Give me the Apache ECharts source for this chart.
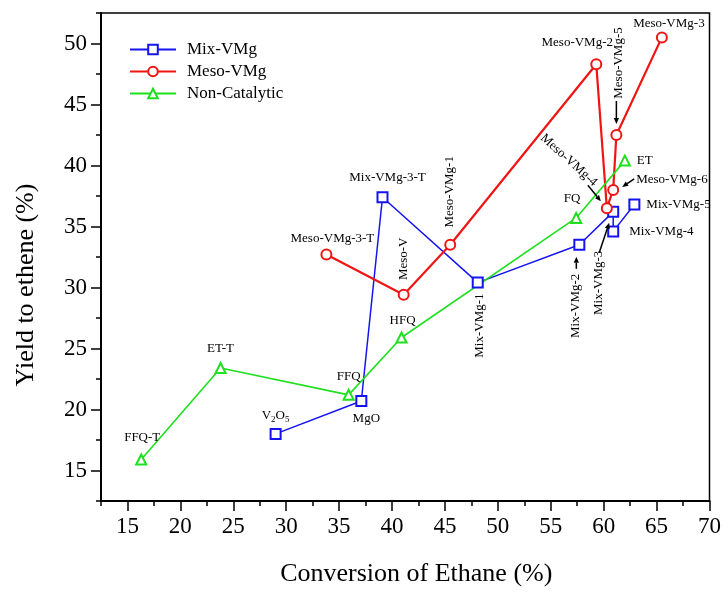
<!DOCTYPE html>
<html>
<head>
<meta charset="utf-8">
<script src="https://cdn.jsdelivr.net/npm/echarts@6/dist/echarts.min.js"></script>
<style>
  html, body { margin: 0; padding: 0; background: #fff; }
  #chart { width: 724px; height: 592px; }
</style>
</head>
<body>
<div id="chart"></div>
<script>
// Catalyst series: conversion of ethane (x, %) vs. yield to ethene (y, %)
const mixNames = ['V2O5', 'MgO', 'Mix-VMg-3-T', 'Mix-VMg-1', 'Mix-VMg-2', 'Mix-VMg-3', 'Mix-VMg-4', 'Mix-VMg-5'];
const mixX = [29.0, 37.1, 39.1, 48.1, 57.7, 60.9, 60.9, 62.9];
const mixY = [18.0, 20.7, 37.4, 30.4, 33.5, 36.2, 34.6, 36.8];

const mesoNames = ['Meso-VMg-3-T', 'Meso-V', 'Meso-VMg-1', 'Meso-VMg-2', 'Meso-VMg-4', 'Meso-VMg-6', 'Meso-VMg-5', 'Meso-VMg-3'];
const mesoX = [33.8, 41.1, 45.5, 59.3, 60.3, 60.9, 61.2, 65.5];
const mesoY = [32.7, 29.4, 33.5, 48.3, 36.5, 38.0, 42.5, 50.5];

const nonNames = ['FFQ-T', 'ET-T', 'FFQ', 'HFQ', 'FQ', 'ET'];
const nonX = [16.3, 23.8, 35.9, 40.9, 57.4, 62.0];
const nonY = [15.9, 23.4, 21.2, 25.9, 35.7, 40.4];

// Axis ticks
const xTicks = [15, 20, 25, 30, 35, 40, 45, 50, 55, 60, 65, 70];
const xMinorTicks = [12.5, 17.5, 22.5, 27.5, 32.5, 37.5, 42.5, 47.5, 52.5, 57.5, 62.5, 67.5];
const yTicks = [15, 20, 25, 30, 35, 40, 45, 50];
const yMinorTicks = [12.5, 17.5, 22.5, 27.5, 32.5, 37.5, 42.5, 47.5, 52.5];

const SERIF = '"Liberation Serif", "DejaVu Serif", serif';
const BLUE = '#1414f0';
const RED = '#f01414';
const GREEN = '#1fe01f';

// Point-label placement in pixels relative to the marker (rot in degrees, CCW)
const labelLayout = {
  'V2O5':        { dx: 0,   dy: -18 },
  'MgO':         { dx: 5,   dy: 18 },
  'Mix-VMg-3-T': { dx: 5,   dy: -20 },
  'Mix-VMg-1':   { dx: 2,   dy: 43, rot: 90 },
  'Mix-VMg-2':   { dx: -4,  dy: 61, rot: 90 },
  'Mix-VMg-3':   { dx: -15, dy: 71, rot: 90 },
  'Mix-VMg-4':   { dx: 16,  dy: 0, align: 'left' },
  'Mix-VMg-5':   { dx: 12,  dy: 0, align: 'left' },
  'Meso-VMg-3-T':{ dx: 6,   dy: -16 },
  'Meso-V':      { dx: 0,   dy: -36, rot: 90 },
  'Meso-VMg-1':  { dx: -1,  dy: -53, rot: 90 },
  'Meso-VMg-2':  { dx: -19, dy: -22 },
  'Meso-VMg-4':  { dx: -38, dy: -48, rot: -42 },
  'Meso-VMg-6':  { dx: 23,  dy: -10, align: 'left' },
  'Meso-VMg-5':  { dx: 2,   dy: -72, rot: 90 },
  'Meso-VMg-3':  { dx: 7,   dy: -14 },
  'FFQ-T':       { dx: 1,   dy: -22 },
  'ET-T':        { dx: 0,   dy: -19 },
  'FFQ':         { dx: 0,   dy: -18 },
  'HFQ':         { dx: 1,   dy: -17 },
  'FQ':          { dx: -4,  dy: -19 },
  'ET':          { dx: 12,  dy: 0, align: 'left' }
};

// Leader arrows: start and tip offsets in pixels from the marker
const arrowLayout = {
  'Meso-VMg-5': [0, -34, 0, -11],
  'Meso-VMg-6': [21, -11, 9, -3],
  'Meso-VMg-4': [-19, -23, -6, -7],
  'Mix-VMg-3':  [-14, 41, -4, 11],
  'Mix-VMg-2':  [-3, 24, -3, 12]
};

function pairs(xs, ys) { return xs.map((x, i) => [x, ys[i]]); }

function lineSeries(name, xs, ys, color, symbol, width) {
  return {
    name: name,
    type: 'line',
    data: pairs(xs, ys),
    symbol: symbol,
    symbolSize: 10,
    showAllSymbol: true,
    animation: false,
    lineStyle: { color: color, width: width },
    itemStyle: { color: color, borderColor: color, borderWidth: 1.4 },
    emphasis: { disabled: true }
  };
}

const chart = echarts.init(document.getElementById('chart'), null, { renderer: 'canvas' });

const axisLabelStyle = { color: '#000', fontFamily: SERIF, fontSize: 23 };

chart.setOption({
  backgroundColor: '#fff',
  animation: false,
  grid: { left: 101, right: 13, top: 13, bottom: 84, show: true, borderColor: '#000', borderWidth: 1.5, backgroundColor: 'transparent' },
  legend: {
    orient: 'vertical',
    left: 124,
    top: 36,
    itemWidth: 46,
    itemHeight: 12,
    itemGap: 5,
    textStyle: { fontFamily: SERIF, fontSize: 17, color: '#000', padding: [0, 0, 0, 6] },
    data: ['Mix-VMg', 'Meso-VMg', 'Non-Catalytic']
  },
  xAxis: [
    {
      type: 'value', min: 12.5, max: 70, position: 'bottom',
      name: 'Conversion of Ethane (%)', nameLocation: 'middle', nameGap: 60,
      nameTextStyle: { fontFamily: SERIF, fontSize: 26, color: '#000', padding: [0, 0, 0, 22] },
      axisLine: { lineStyle: { color: '#000', width: 2 } },
      axisTick: { customValues: xTicks, length: 10, inside: false, lineStyle: { color: '#000', width: 1.5 } },
      axisLabel: Object.assign({ customValues: xTicks, margin: 14 }, axisLabelStyle),
      splitLine: { show: false }
    },
    {
      type: 'value', min: 12.5, max: 70, position: 'bottom',
      axisLine: { show: false },
      axisTick: { customValues: xMinorTicks, length: 5, lineStyle: { color: '#000', width: 1.5 } },
      axisLabel: { show: false },
      splitLine: { show: false }
    }
  ],
  yAxis: [
    {
      type: 'value', min: 12.5, max: 52.5, position: 'left',
      name: 'Yield to ethene (%)', nameLocation: 'middle', nameGap: 62,
      nameTextStyle: { fontFamily: SERIF, fontSize: 26, color: '#000', padding: [0, 56, 0, 0] },
      axisLine: { lineStyle: { color: '#000', width: 2 } },
      axisTick: { customValues: yTicks, length: 10, lineStyle: { color: '#000', width: 1.5 } },
      axisLabel: Object.assign({ customValues: yTicks, margin: 14 }, axisLabelStyle),
      splitLine: { show: false }
    },
    {
      type: 'value', min: 12.5, max: 52.5, position: 'left',
      axisLine: { show: false },
      axisTick: { customValues: yMinorTicks, length: 5, lineStyle: { color: '#000', width: 1.5 } },
      axisLabel: { show: false },
      splitLine: { show: false }
    }
  ],
  series: [
    lineSeries('Mix-VMg', mixX, mixY, BLUE, 'emptyRect', 1.5),
    lineSeries('Meso-VMg', mesoX, mesoY, RED, 'emptyCircle', 2.2),
    lineSeries('Non-Catalytic', nonX, nonY, GREEN, 'emptyTriangle', 1.6)
  ]
});

// Point labels and leader arrows, anchored to the data points through the axes
const graphics = [];
function addLabels(names, xs, ys) {
  names.forEach((name, i) => {
    const p = chart.convertToPixel({ gridIndex: 0 }, [xs[i], ys[i]]);
    const l = labelLayout[name];
    if (l) {
      const isOxide = name === 'V2O5';
      graphics.push({
        type: 'text',
        x: p[0] + l.dx,
        y: p[1] + l.dy,
        rotation: ((l.rot || 0) * Math.PI) / 180,
        z: 100,
        silent: true,
        style: {
          text: isOxide ? '{a|V}{b|2}{a|O}{b|5}' : name,
          fontFamily: SERIF,
          fontSize: 13,
          fill: '#000',
          align: l.align || 'center',
          verticalAlign: 'middle',
          rich: isOxide ? {
            a: { fontFamily: SERIF, fontSize: 13, lineHeight: 16, fill: '#000' },
            b: { fontFamily: SERIF, fontSize: 9, lineHeight: 16, padding: [7, 0, 0, 0], fill: '#000' }
          } : undefined
        }
      });
    }
    const a = arrowLayout[name];
    if (a) {
      const x1 = p[0] + a[0], y1 = p[1] + a[1], x2 = p[0] + a[2], y2 = p[1] + a[3];
      const ang = Math.atan2(y2 - y1, x2 - x1);
      const hl = 6, hw = 2.6;
      const bx = x2 - hl * Math.cos(ang), by = y2 - hl * Math.sin(ang);
      graphics.push({
        type: 'line', z: 100, silent: true,
        shape: { x1: x1, y1: y1, x2: bx, y2: by },
        style: { stroke: '#000', lineWidth: 1.5 }
      });
      graphics.push({
        type: 'polygon', z: 100, silent: true,
        shape: { points: [
          [x2, y2],
          [bx + hw * Math.sin(ang), by - hw * Math.cos(ang)],
          [bx - hw * Math.sin(ang), by + hw * Math.cos(ang)]
        ] },
        style: { fill: '#000' }
      });
    }
  });
}
addLabels(mixNames, mixX, mixY);
addLabels(mesoNames, mesoX, mesoY);
addLabels(nonNames, nonX, nonY);

chart.setOption({ graphic: graphics });
</script>
</body>
</html>
